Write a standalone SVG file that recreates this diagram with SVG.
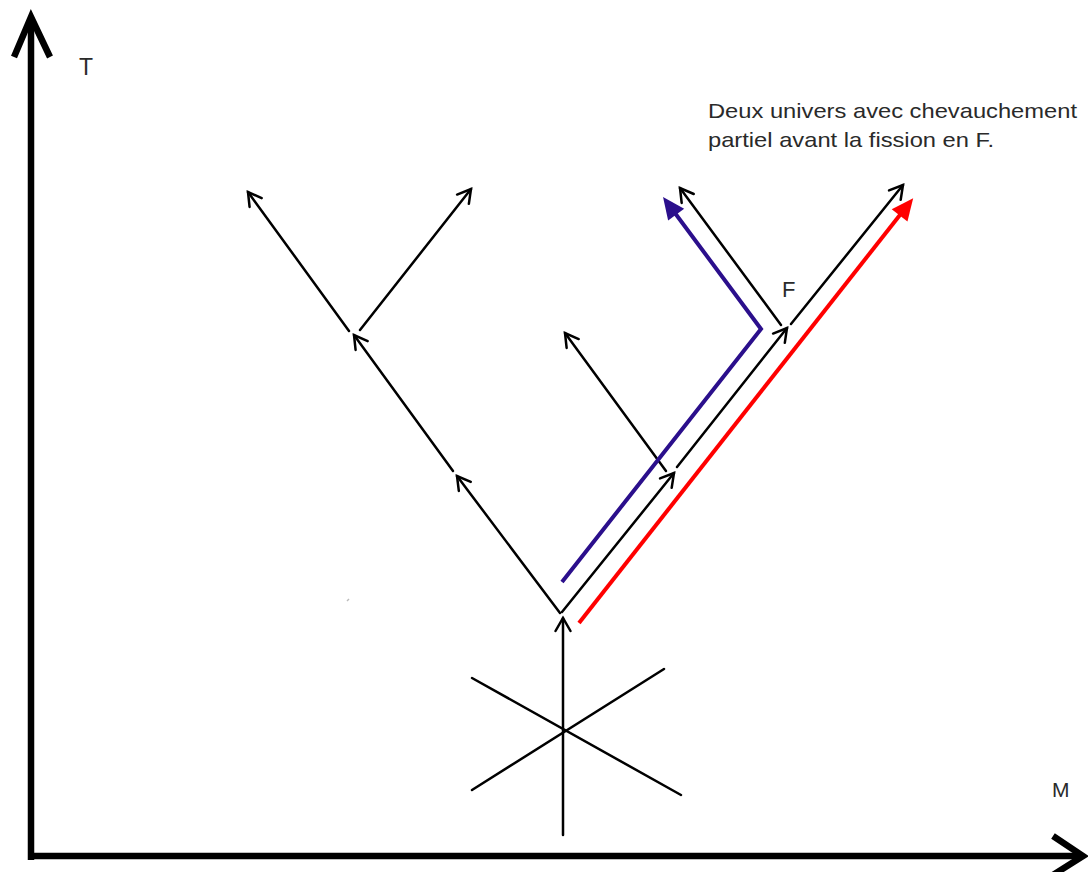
<svg xmlns="http://www.w3.org/2000/svg" width="1088" height="872" viewBox="0 0 1088 872">
<style>
.ln{fill:none;stroke:#000;stroke-width:2.5;stroke-linecap:round}
.ax{fill:none;stroke:#000;stroke-width:6.5;stroke-linejoin:miter;stroke-linecap:butt}
.lbl{font-family:"Liberation Sans",Arial,sans-serif;fill:#2a2a2a}
</style>
<defs>
<marker id="open" markerUnits="userSpaceOnUse" viewBox="-16 -10 20 20" refX="0" refY="0" markerWidth="20" markerHeight="20" orient="auto">
<path d="M-13,-7.5 L0,0 L-13,7.5" fill="none" stroke="#000" stroke-width="2.5" stroke-linecap="round" stroke-linejoin="miter"/>
</marker>
<marker id="blueHead" markerUnits="userSpaceOnUse" viewBox="-14 -12 26 24" refX="0" refY="0" markerWidth="26" markerHeight="24" orient="auto">
<path d="M-12,-10 L10,0 L-12,10 Z" fill="#2b0f8c"/>
</marker>
<marker id="redHead" markerUnits="userSpaceOnUse" viewBox="-14 -12 26 24" refX="0" refY="0" markerWidth="26" markerHeight="24" orient="auto">
<path d="M-12,-10 L10,0 L-12,10 Z" fill="#ff0000"/>
</marker>
</defs>

<g id="axes">
<path class="ax" d="M31,860 L31,18"/>
<path class="ax" d="M14,57 L31,17 L50,57"/>
<path class="ax" d="M28,856 L1082,856"/>
<path class="ax" d="M1053,836 L1083,856 L1053,875"/>
</g>

<g id="star">
<line class="ln" x1="472" y1="678" x2="681" y2="795"/>
<line class="ln" x1="472" y1="790" x2="664" y2="669"/>
</g>

<g id="connectors">
<line class="ln" x1="563" y1="835" x2="563" y2="618" marker-end="url(#open)"/>
<line class="ln" x1="560" y1="613" x2="457" y2="476" marker-end="url(#open)"/>
<line class="ln" x1="453" y1="471" x2="354" y2="335" marker-end="url(#open)"/>
<line class="ln" x1="349" y1="331" x2="248" y2="192" marker-end="url(#open)"/>
<line class="ln" x1="360" y1="330" x2="471" y2="189" marker-end="url(#open)"/>
<line class="ln" x1="562" y1="612" x2="674" y2="473" marker-end="url(#open)"/>
<line class="ln" x1="666" y1="471" x2="565" y2="333" marker-end="url(#open)"/>
<line class="ln" x1="677" y1="467" x2="787" y2="328" marker-end="url(#open)"/>
<line class="ln" x1="781" y1="325" x2="680" y2="188" marker-end="url(#open)"/>
<line class="ln" x1="791" y1="324" x2="903" y2="185" marker-end="url(#open)"/>
</g>

<g id="blue-universe">
<path d="M562,582 L761,329 L669,205" fill="none" stroke="#2b0f8c" stroke-width="4" stroke-linejoin="miter" marker-end="url(#blueHead)"/>
</g>

<g id="red-universe">
<path d="M579,623 L907,206" fill="none" stroke="#ff0000" stroke-width="4" marker-end="url(#redHead)"/>
</g>

<path d="M347,601 L349,599" stroke="#bbb" stroke-width="1.5"/>

<g id="labels">
<text class="lbl" x="79" y="75" font-size="23">T</text>
<text class="lbl" x="1052" y="797" font-size="21">M</text>
<text class="lbl" x="782" y="297" font-size="22">F</text>
<text class="lbl" x="708" y="118" font-size="21" textLength="369" lengthAdjust="spacingAndGlyphs">Deux univers avec chevauchement</text>
<text class="lbl" x="708" y="147" font-size="21" textLength="286" lengthAdjust="spacingAndGlyphs">partiel avant la fission en F.</text>
</g>
</svg>
